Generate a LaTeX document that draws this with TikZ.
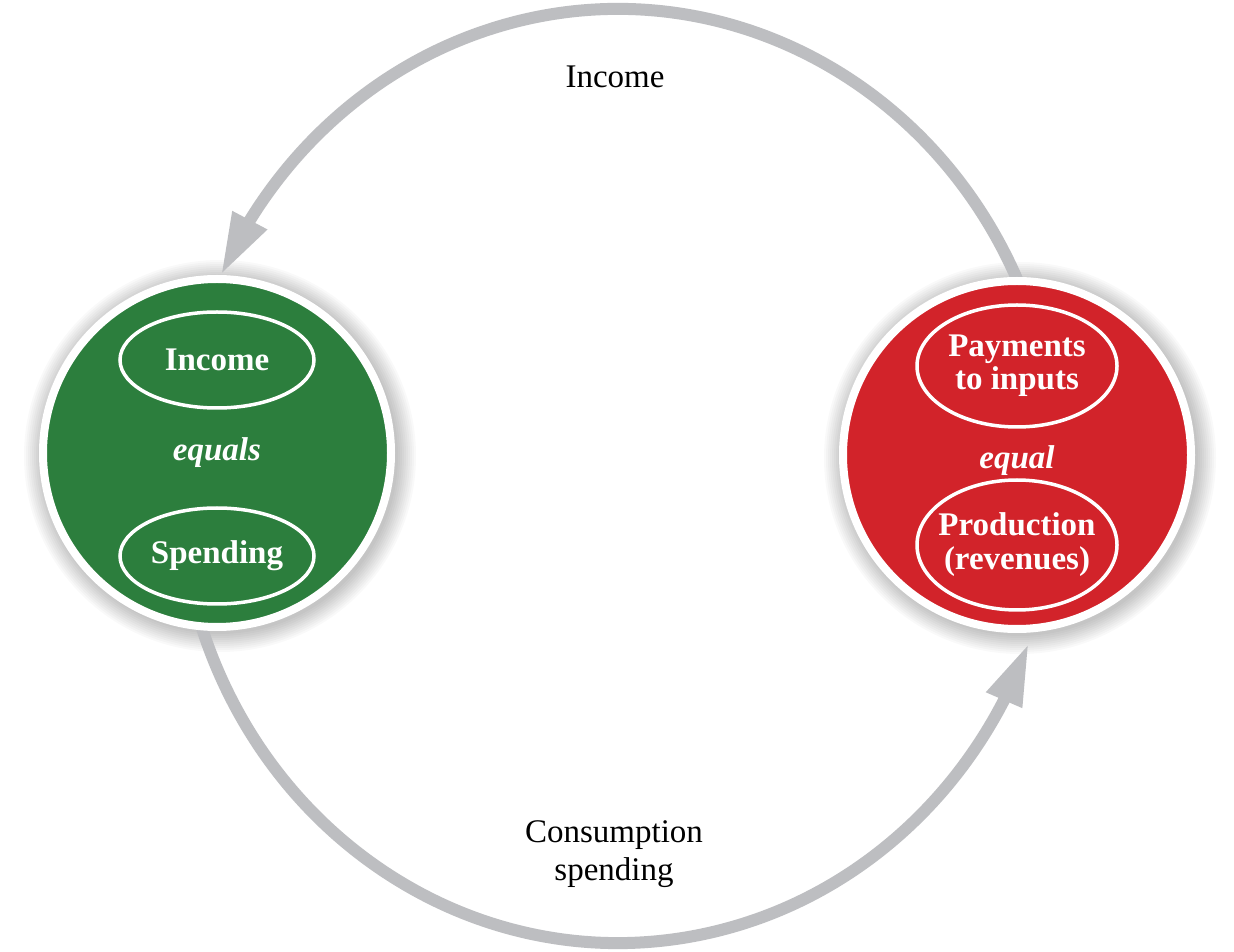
\documentclass[tikz,border=0pt]{standalone}
\usepackage{fontspec}
\setmainfont{Liberation Serif}
\usetikzlibrary{arrows.meta,bending,shapes.geometric,calc}
\definecolor{flowgray}{RGB}{189,190,193}
\definecolor{grn}{RGB}{44,126,61}
\definecolor{rd}{RGB}{210,35,42}
\begin{document}
\begin{tikzpicture}[x=1pt,y=1pt,
  flow/.style={draw=flowgray, line width=12pt, -{Triangle[length=62pt,width=36pt,flex]}},
  bigdisc/.style={circle, draw=white, line width=8pt, minimum size=348pt, inner sep=0pt},
  inell/.style={ellipse, draw=white, line width=3.5pt, inner xsep=-10pt, inner ysep=0pt, text=white,
    font=\fontsize{33}{34}\selectfont\bfseries, align=center},
  midword/.style={text=white, font=\fontsize{33}{34}\selectfont\bfseries\itshape},
  flowlabel/.style={font=\fontsize{33}{38}\selectfont, align=center}]
\useasboundingbox (0,0) rectangle (1234,951);
\fill[white] (0,0) rectangle (1234,951);
\coordinate (E) at (618,475);
\coordinate (GC) at (217,498);
\coordinate (RC) at (1017,496);
% shadows
\foreach \i in {0,...,9}{
  \fill[black,opacity=0.025] ($(GC)+(3,-3)$) circle ({178+2*\i});
  \fill[black,opacity=0.025] ($(RC)+(3,-3)$) circle ({178+2*\i});
}
% flows
\coordinate (topstart) at ($(E)+(20:440 and 467)$);
\coordinate (botstart) at ($(E)+(195:440 and 467)$);
\draw[flow] (topstart) arc[start angle=20, end angle=154.5, x radius=440, y radius=467];
\draw[flow] (botstart) arc[start angle=195, end angle=339, x radius=440, y radius=467];
% circles
\node[bigdisc, fill=grn] (G) at (GC) {};
\node[bigdisc, fill=rd] (R) at (RC) {};
% inner content left
\node[inell, minimum width=194pt, minimum height=96pt] (inc) at (217,591) {Income};
\node[midword] (eqs) at (217,498) {equals};
\node[inell, minimum width=194pt, minimum height=96pt] (spd) at (217,395) {Spending};
% inner content right
\node[inell, minimum width=200pt, minimum height=122pt] (pay) at (1017,585) {\raisebox{-4pt}{\shortstack{Payments\\to inputs}}};
\node[midword] (eq) at (1017,490) {equal};
\node[inell, minimum width=200pt, minimum height=130pt] (prod) at (1017,406) {Production\\(revenues)};
% flow labels
\node[flowlabel] (lincome) at (615,874) {Income};
\node[flowlabel] (lcons) at (614,97) {Consumption\\spending};
\end{tikzpicture}
\end{document}
